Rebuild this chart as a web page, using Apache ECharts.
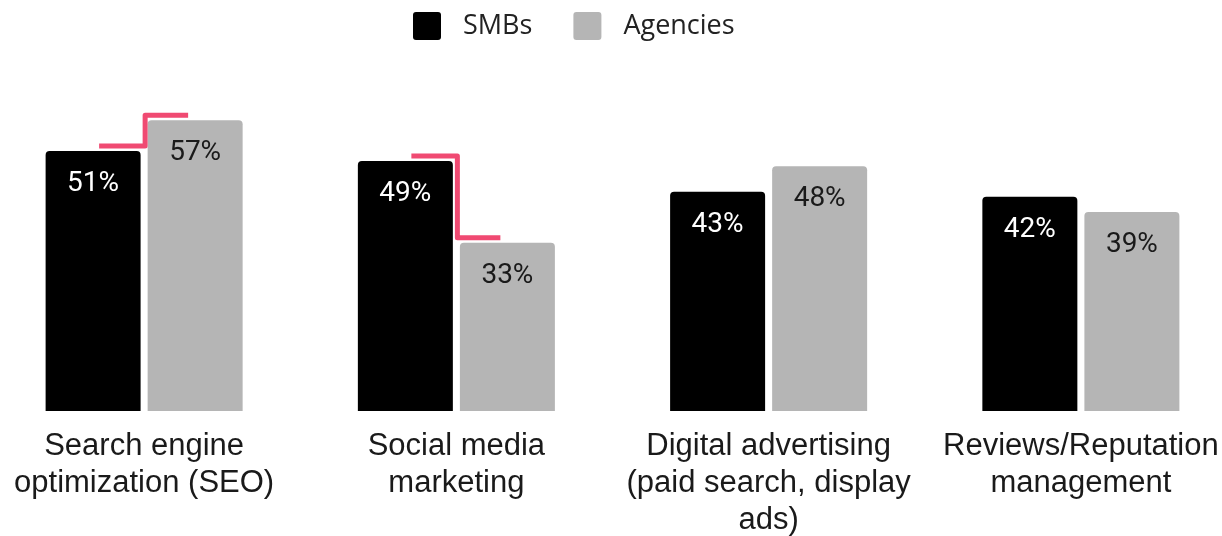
<!DOCTYPE html>
<html>
<head>
<meta charset="utf-8">
<script src="https://cdn.jsdelivr.net/npm/echarts@6/dist/echarts.min.js"></script>
<style>
  html, body { margin: 0; padding: 0; background: #ffffff; }
  #chart { width: 1222px; height: 536px; }
</style>
</head>
<body>
<div id="chart"></div>
<script>
// Marketing services: share of SMBs vs agencies
const categories = [
  'Search engine\noptimization (SEO)',
  'Social media\nmarketing',
  'Digital advertising\n(paid search, display\nads)',
  'Reviews/Reputation\nmanagement'
];
const smbValues = [51, 49, 43, 42];
const agencyValues = [57, 33, 48, 39];
const seriesNames = ['SMBs', 'Agencies'];
// Categories whose SMB/agency gap is highlighted by a step connector
const highlighted = [0, 1];

const BAR_W = 95;
const BAR_GAP = 7;

const connectorData = highlighted.map(i => [i, smbValues[i], agencyValues[i]]);

// Square legend marker with slightly rounded corners
const legendIcon = 'path://M3,0H25Q28,0,28,3V25Q28,28,25,28H3Q0,28,0,25V3Q0,0,3,0Z';

const chart = echarts.init(document.getElementById('chart'));
chart.setOption({
  animation: false,
  backgroundColor: '#ffffff',
  legend: {
    top: 7,
    left: 408,
    itemWidth: 28,
    itemHeight: 28,
    itemGap: 41,
    icon: legendIcon,
    textStyle: {
      fontFamily: 'Open Sans',
      fontSize: 27,
      color: '#222222',
      padding: [0, 0, 0, 17]
    },
    data: seriesNames
  },
  grid: {
    left: -12, width: 1249, top: 105, height: 306,
    containLabel: false,
    outerBoundsMode: 'none'
  },
  xAxis: {
    type: 'category',
    data: categories,
    axisLine: { show: false },
    axisTick: { show: false },
    axisLabel: {
      interval: 0,
      margin: 17,
      fontFamily: 'Liberation Sans',
      fontSize: 31,
      lineHeight: 37,
      color: '#1a1a1a'
    }
  },
  yAxis: {
    type: 'value',
    min: 0,
    max: 60,
    show: false,
    splitLine: { show: false }
  },
  series: [
    {
      name: seriesNames[0],
      type: 'bar',
      data: smbValues,
      barWidth: BAR_W,
      barGap: (BAR_GAP / BAR_W * 100).toFixed(1) + '%',
      itemStyle: { color: '#000000', borderRadius: [4, 4, 0, 0] },
      label: {
        show: true,
        position: 'insideTop',
        distance: 19,
        formatter: '{c}%',
        fontFamily: 'Roboto',
        fontSize: 28,
        color: '#ffffff'
      }
    },
    {
      name: seriesNames[1],
      type: 'bar',
      data: agencyValues,
      barWidth: BAR_W,
      itemStyle: { color: '#b5b5b5', borderRadius: [4, 4, 0, 0] },
      label: {
        show: true,
        position: 'insideTop',
        distance: 19,
        formatter: '{c}%',
        fontFamily: 'Roboto',
        fontSize: 28,
        color: '#1a1a1a'
      }
    },
    {
      // Step connector from the SMB bar top to the agency bar top
      type: 'custom',
      data: connectorData,
      z: 5,
      silent: true,
      renderItem: function (params, api) {
        const i = api.value(0);
        const cx = api.coord([i, 0])[0];
        const ySmb = api.coord([i, api.value(1)])[1] - 5;
        const yAg = api.coord([i, api.value(2)])[1] - 5;
        const x0 = cx - 45;
        const xs = cx + 1;
        const x1 = cx + 44;
        return {
          type: 'polyline',
          shape: { points: [[x0, ySmb], [xs, ySmb], [xs, yAg], [x1, yAg]] },
          style: {
            stroke: '#f04a72',
            lineWidth: 5,
            fill: null,
            lineJoin: 'round'
          }
        };
      }
    }
  ]
});
</script>
</body>
</html>
